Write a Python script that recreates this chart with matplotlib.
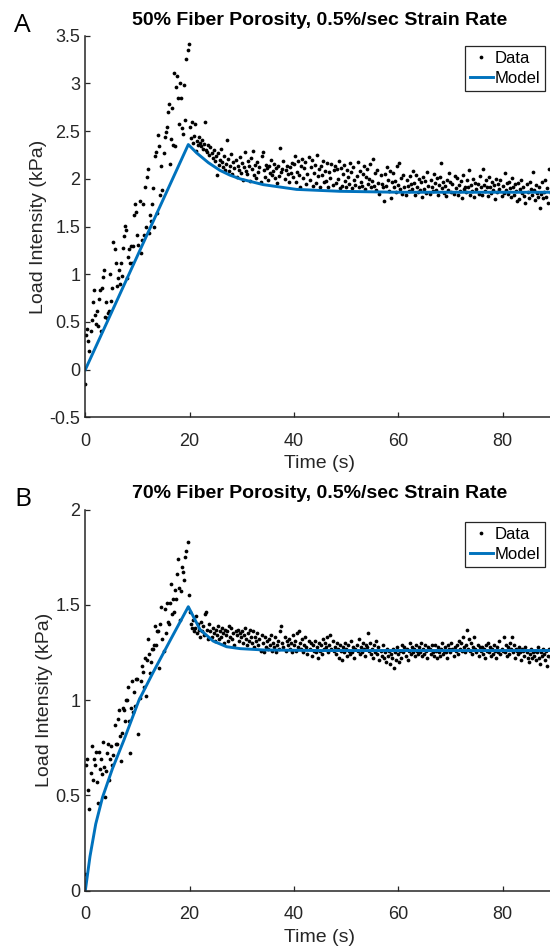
import numpy as np
import matplotlib
matplotlib.use('Agg')
import matplotlib.pyplot as plt

# Sampling interval of the load data (s)
sample_dt = 0.2

# Panel A: 50% fiber porosity, measured load (kPa), one row per second
load_a = [
    -0.15, 0.36, 0.43, 0.30, 0.20,
    0.41, 0.52, 0.71, 0.84, 0.57,
    0.48, 0.62, 0.46, 0.74, 0.84,
    0.41, 0.86, 0.97, 1.05, 0.55,
    0.71, 0.54, 0.59, 0.62, 1.00,
    0.72, 0.86, 1.34, 1.26, 1.12,
    0.88, 0.96, 1.05, 0.90, 1.12,
    0.98, 1.28, 1.40, 1.51, 1.46,
    0.96, 1.18, 1.26, 1.12, 1.30,
    1.12, 1.30, 1.62, 1.74, 1.65,
    1.41, 1.31, 1.77, 1.22, 1.36,
    1.74, 1.41, 1.91, 1.50, 2.02,
    2.10, 1.43, 1.62, 1.56, 1.74,
    1.90, 1.50, 2.24, 2.28, 1.64,
    2.46, 2.34, 1.83, 2.13, 1.88,
    2.27, 2.44, 2.49, 2.54, 2.70,
    2.79, 2.16, 2.42, 2.74, 2.36,
    3.11, 2.35, 2.96, 3.08, 2.85,
    2.58, 3.01, 2.85, 2.53, 2.47,
    2.98, 2.62, 3.26, 3.35, 3.41,
    2.54, 2.43, 2.60, 2.38, 2.45,
    2.58, 2.29, 2.40, 2.36, 2.44,
    2.38, 2.34, 2.41, 2.31, 2.37,
    2.60, 2.30, 2.28, 2.36, 2.25,
    2.33, 2.27, 2.22, 2.30, 2.19,
    2.24, 2.04, 2.27, 2.15, 2.20,
    2.31, 2.18, 2.12, 2.24, 2.09,
    2.16, 2.41, 2.21, 2.08, 2.13,
    2.26, 2.05, 2.18, 2.11, 2.20,
    2.02, 2.14, 2.09, 2.23, 2.06,
    2.17, 1.99, 2.12, 2.28, 2.08,
    2.05, 2.19, 2.13, 1.98, 2.22,
    2.10, 2.29, 2.04, 2.15, 2.01,
    2.18, 2.07, 2.12, 1.97, 2.24,
    2.28, 2.09, 2.02, 2.15, 2.11,
    1.99, 2.13, 2.06, 2.20, 2.04,
    2.08, 2.16, 2.01, 2.11, 1.96,
    2.14, 2.03, 2.32, 2.07, 2.10,
    2.19, 2.00, 2.09, 2.13, 2.05,
    1.97, 2.12, 2.06, 2.17, 2.02,
    2.16, 2.24, 1.97, 2.07, 2.19,
    2.04, 1.92, 2.14, 2.21, 2.01,
    2.11, 2.18, 1.95, 2.05, 2.23,
    1.99, 2.12, 2.20, 1.93, 2.06,
    2.15, 1.96, 2.25, 2.03, 2.10,
    1.91, 2.13, 2.04, 2.19, 1.97,
    2.08, 1.98, 2.17, 1.92, 2.07,
    2.01, 2.16, 1.94, 2.09, 2.13,
    1.96, 2.10, 2.00, 2.19, 1.90,
    2.11, 1.93, 2.05, 2.15, 1.98,
    1.92, 2.09, 2.02, 1.95, 2.17,
    2.07, 1.90, 2.12, 1.99, 1.94,
    2.03, 2.18, 1.91, 2.08, 1.97,
    1.93, 2.05, 2.14, 1.89, 2.02,
    2.10, 1.95, 2.00, 2.16, 1.92,
    1.98, 2.21, 1.93, 2.06, 1.88,
    2.09, 1.96, 1.84, 2.04, 1.95,
    1.91, 1.77, 2.05, 1.93, 2.12,
    1.99, 1.87, 2.08, 1.80, 1.97,
    2.06, 1.92, 1.98, 1.86, 2.14,
    1.94, 2.17, 1.89, 2.01, 1.84,
    2.04, 1.92, 1.83, 1.99, 1.93,
    1.87, 2.03, 1.95, 1.89, 2.08,
    1.96, 1.83, 2.04, 1.91, 1.86,
    2.00, 1.88, 1.97, 1.81, 2.02,
    1.89, 1.98, 1.85, 2.07, 1.93,
    1.84, 1.99, 1.92, 1.87, 2.05,
    1.96, 1.88, 2.01, 1.83, 1.94,
    2.02, 2.17, 1.90, 1.97, 1.85,
    1.93, 1.82, 1.99, 1.88, 2.06,
    1.97, 1.86, 1.95, 1.84, 2.03,
    1.90, 2.01, 1.83, 1.94, 1.87,
    1.98, 1.80, 2.04, 1.89, 1.92,
    1.86, 1.99, 1.91, 2.09, 1.83,
    1.94, 1.87, 2.00, 1.81, 1.96,
    1.89, 1.95, 1.84, 2.03, 1.92,
    1.83, 2.10, 1.94, 1.87, 1.99,
    1.91, 1.82, 2.02, 1.92, 1.85,
    1.97, 1.88, 1.94, 1.79, 2.00,
    1.86, 1.95, 1.89, 1.99, 1.82,
    1.93, 1.85, 2.06, 1.88, 1.96,
    1.84, 1.97, 1.90, 1.81, 2.01,
    1.91, 1.83, 1.95, 1.87, 1.77,
    1.96, 1.79, 1.89, 1.99, 1.85,
    1.92, 1.82, 1.75, 1.95, 1.86,
    1.80, 1.97, 1.89, 1.83, 2.07,
    1.88, 1.78, 1.94, 1.85, 1.81,
    1.91, 1.70, 1.84, 1.97, 1.80,
    1.86, 1.99, 1.81, 1.90, 1.75,
    2.10, 1.85, 1.93, 1.82, 1.89,
]

# Panel A model curve (vertices)
model_t_a = [0, 19.75, 21.4, 23.6, 25.8, 27.7, 29.7, 34.1, 40.5, 48.8, 60, 90]
model_v_a = [0, 2.36, 2.27, 2.17, 2.09, 2.04, 2.00, 1.94, 1.89, 1.87, 1.86, 1.86]

# Panel B: 70% fiber porosity, measured load (kPa), one row per second
load_b = [
    0.09, 0.66, 0.69, 0.53, 0.43,
    0.62, 0.76, 0.58, 0.69, 0.66,
    0.73, 0.57, 0.46, 0.73, 0.64,
    0.69, 0.61, 0.78, 0.65, 0.49,
    0.63, 0.72, 0.77, 0.58, 0.69,
    0.76, 0.66, 0.71, 0.87, 0.77,
    0.77, 0.90, 0.95, 0.81, 0.68,
    0.83, 0.96, 0.95, 0.89, 1.00,
    1.00, 1.07, 0.89, 0.72, 0.96,
    1.10, 0.94, 1.04, 0.97, 1.11,
    1.11, 0.82, 1.01, 1.10, 1.18,
    1.15, 1.07, 1.22, 1.02, 1.21,
    1.32, 1.24, 1.14, 1.20, 1.27,
    1.27, 1.29, 1.39, 1.29, 1.36,
    1.36, 1.17, 1.40, 1.49, 1.32,
    1.26, 1.48, 1.35, 1.51, 1.41,
    1.40, 1.51, 1.61, 1.45, 1.53,
    1.46, 1.58, 1.53, 1.66, 1.74,
    1.59, 1.42, 1.57, 1.70, 1.67,
    1.63, 1.75, 1.78, 1.83, 1.55,
    1.46, 1.40, 1.38, 1.42, 1.36,
    1.38, 1.44, 1.35, 1.40, 1.37,
    1.33, 1.41, 1.36, 1.39, 1.34,
    1.45, 1.46, 1.37, 1.32, 1.40,
    1.36, 1.33, 1.38, 1.35, 1.31,
    1.37, 1.34, 1.39, 1.32, 1.36,
    1.33, 1.38, 1.35, 1.30, 1.37,
    1.34, 1.36, 1.31, 1.39, 1.33,
    1.38, 1.32, 1.35, 1.29, 1.36,
    1.34, 1.37, 1.31, 1.35, 1.33,
    1.36, 1.30, 1.34, 1.38, 1.32,
    1.29, 1.35, 1.31, 1.37, 1.33,
    1.30, 1.36, 1.28, 1.33, 1.31,
    1.35, 1.29, 1.32, 1.26, 1.34,
    1.30, 1.25, 1.33, 1.28, 1.31,
    1.27, 1.32, 1.29, 1.34, 1.26,
    1.30, 1.28, 1.33, 1.25, 1.29,
    1.31, 1.27, 1.36, 1.39, 1.30,
    1.28, 1.33, 1.26, 1.31, 1.29,
    1.32, 1.27, 1.30, 1.25, 1.34,
    1.29, 1.31, 1.26, 1.35, 1.28,
    1.36, 1.30, 1.27, 1.32, 1.25,
    1.29, 1.33, 1.28, 1.24, 1.31,
    1.27, 1.30, 1.23, 1.29, 1.26,
    1.31, 1.25, 1.28, 1.22, 1.30,
    1.26, 1.29, 1.24, 1.32, 1.27,
    1.30, 1.28, 1.33, 1.25, 1.29,
    1.34, 1.27, 1.31, 1.26, 1.28,
    1.24, 1.30, 1.27, 1.22, 1.29,
    1.26, 1.21, 1.28, 1.25, 1.30,
    1.27, 1.23, 1.29, 1.26, 1.24,
    1.31, 1.25, 1.28, 1.22, 1.27,
    1.29, 1.26, 1.32, 1.24, 1.28,
    1.25, 1.30, 1.27, 1.23, 1.29,
    1.28, 1.35, 1.26, 1.30, 1.24,
    1.27, 1.22, 1.29, 1.25, 1.31,
    1.24, 1.28, 1.21, 1.26, 1.23,
    1.29, 1.22, 1.25, 1.20, 1.27,
    1.23, 1.26, 1.19, 1.24, 1.22,
    1.27, 1.17, 1.25, 1.21, 1.28,
    1.24, 1.20, 1.26, 1.22, 1.29,
    1.25, 1.28, 1.23, 1.27, 1.21,
    1.26, 1.30, 1.24, 1.28, 1.25,
    1.27, 1.23, 1.29, 1.26, 1.24,
    1.28, 1.25, 1.30, 1.23, 1.27,
    1.24, 1.29, 1.26, 1.22, 1.28,
    1.27, 1.24, 1.29, 1.25, 1.23,
    1.29, 1.26, 1.22, 1.28, 1.25,
    1.23, 1.27, 1.30, 1.24, 1.26,
    1.28, 1.25, 1.22, 1.29, 1.27,
    1.25, 1.30, 1.27, 1.23, 1.28,
    1.26, 1.29, 1.24, 1.31, 1.27,
    1.30, 1.26, 1.33, 1.28, 1.25,
    1.29, 1.37, 1.27, 1.32, 1.26,
    1.30, 1.24, 1.28, 1.33, 1.27,
    1.25, 1.29, 1.23, 1.28, 1.26,
    1.28, 1.24, 1.27, 1.22, 1.29,
    1.26, 1.30, 1.25, 1.28, 1.23,
    1.27, 1.24, 1.29, 1.26, 1.22,
    1.28, 1.25, 1.31, 1.24, 1.27,
    1.26, 1.33, 1.25, 1.29, 1.23,
    1.28, 1.24, 1.30, 1.27, 1.33,
    1.25, 1.29, 1.22, 1.27, 1.26,
    1.24, 1.28, 1.25, 1.21, 1.27,
    1.26, 1.23, 1.28, 1.25, 1.22,
    1.20, 1.24, 1.27, 1.22, 1.25,
    1.23, 1.26, 1.21, 1.25, 1.28,
    1.22, 1.19, 1.25, 1.23, 1.27,
    1.24, 1.21, 1.26, 1.18, 1.23,
    1.27, 1.22, 1.25, 1.20, 1.26,
]

# Panel B model curve (vertices)
model_t_b = [0, 0.9, 2.0, 3.3, 5.2, 7.4, 10.3, 12.9, 16.4, 19.75, 22.0, 24.5, 27.1, 29.7, 34.2, 45, 90]
model_v_b = [0, 0.18, 0.35, 0.49, 0.64, 0.79, 1.00, 1.14, 1.32, 1.49, 1.37, 1.31, 1.28, 1.27, 1.263, 1.26, 1.26]

titles = ['50% Fiber Porosity, 0.5%/sec Strain Rate', '70% Fiber Porosity, 0.5%/sec Strain Rate']
y_ticks_a = [-0.5, 0, 0.5, 1, 1.5, 2, 2.5, 3, 3.5]
y_ticks_b = [0, 0.5, 1, 1.5, 2]
x_ticks = [0, 20, 40, 60, 80]

plt.rcParams['font.family'] = ['Liberation Sans', 'DejaVu Sans']
text_col = '#262626'
blue = '#0072BD'

W, H = 550, 946
fig = plt.figure(figsize=(5.5, 9.46), dpi=100)
ax_a = fig.add_axes([85.3 / W, 1 - 417.4 / H, 469.4 / W, (417.4 - 35.8) / H])
ax_b = fig.add_axes([85.3 / W, 1 - 890.7 / H, 469.4 / W, (890.7 - 509.5) / H])


def fmt(v):
    return ('%g' % v)


for ax, load, mt, mv, title, yt, legend_top in [
        (ax_a, load_a, model_t_a, model_v_a, titles[0], y_ticks_a, 46),
        (ax_b, load_b, model_t_b, model_v_b, titles[1], y_ticks_b, 522)]:
    t = np.arange(len(load)) * sample_dt
    ax.plot(t, load, 'o', color='black', ms=2.7, mew=0, label='Data')
    ax.plot(mt, mv, '-', color=blue, lw=2.1, label='Model')
    ax.set_xlim(0, 90)
    ax.set_ylim(yt[0], yt[-1])
    ax.set_xticks(x_ticks)
    ax.set_yticks(yt)
    ax.set_yticklabels([fmt(v) for v in yt])
    ax.spines['top'].set_visible(False)
    ax.spines['right'].set_visible(False)
    for s in ['left', 'bottom']:
        ax.spines[s].set_color(text_col)
        ax.spines[s].set_linewidth(1.1)
    ax.tick_params(direction='in', length=3.5, width=0.9, colors=text_col,
                   labelsize=13)
    ax.tick_params(axis='x', pad=11)
    ax.tick_params(axis='y', pad=3.5)
    ax.set_xlabel('Time (s)', fontsize=14, color=text_col, labelpad=4)
    ax.set_ylabel('Load Intensity (kPa)', fontsize=14, color=text_col, labelpad=2)
    ax.set_title(title, fontsize=14, fontweight='bold', pad=8)
    leg = ax.legend(loc='upper right', bbox_to_anchor=(545 / W, 1 - legend_top / H),
                    bbox_transform=fig.transFigure, fontsize=12, numpoints=1,
                    fancybox=False, framealpha=1, edgecolor=text_col,
                    handlelength=1.35, handletextpad=0.1,
                    borderpad=0.3, labelspacing=0.3, borderaxespad=0)
    leg.get_frame().set_linewidth(0.9)

fig.text(14 / W, 1 - 25 / H, 'A', fontsize=19, family='Open Sans', va='center', ha='left')
fig.text(14 / W, 1 - 499 / H, 'B', fontsize=19, family='Open Sans', va='center', ha='left')

fig.savefig('out.png', dpi=100)
